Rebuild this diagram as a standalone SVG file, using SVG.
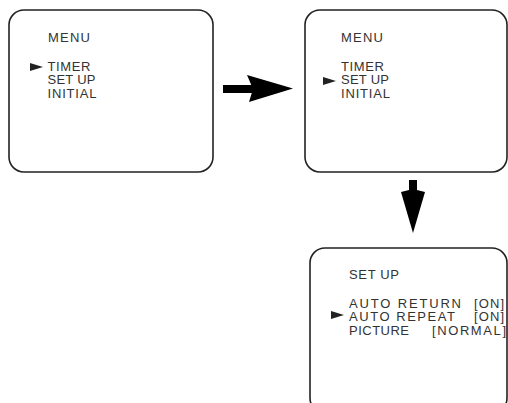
<svg xmlns="http://www.w3.org/2000/svg" width="508" height="403" viewBox="0 0 508 403">
<style>
.box{fill:#fff;stroke:#222;stroke-width:1.6}
.t{font-family:"Liberation Sans",Arial,sans-serif;font-size:13px;fill:#333}
.ptr{fill:#222}
.arr{fill:#000}
</style>
<defs>
<polygon id="ptr" points="0,0 13,4 0,8"/>
</defs>
<rect width="508" height="403" fill="#fff"/>
<g id="screen-menu-timer">
<rect class="box" x="9" y="10" width="204" height="162" rx="15"/>
<text class="t" x="48" y="41.7" textLength="42" lengthAdjust="spacing">MENU</text>
<use href="#ptr" class="ptr" x="30" y="63"/>
<text class="t" x="47.5" y="70.7" textLength="43" lengthAdjust="spacing">TIMER</text>
<text class="t" x="47.5" y="84.3" textLength="48" lengthAdjust="spacing">SET UP</text>
<text class="t" x="47.5" y="98" textLength="49" lengthAdjust="spacing">INITIAL</text>
</g>
<g id="screen-menu-setup">
<rect class="box" x="305" y="10" width="202" height="162" rx="15"/>
<text class="t" x="341" y="41.7" textLength="42" lengthAdjust="spacing">MENU</text>
<text class="t" x="341" y="70.7" textLength="43" lengthAdjust="spacing">TIMER</text>
<use href="#ptr" class="ptr" x="323" y="77"/>
<text class="t" x="341" y="84.3" textLength="48" lengthAdjust="spacing">SET UP</text>
<text class="t" x="341" y="98" textLength="49" lengthAdjust="spacing">INITIAL</text>
</g>
<g id="screen-setup">
<rect class="box" x="310" y="248" width="197" height="165" rx="15"/>
<text class="t" x="349" y="279" textLength="50" lengthAdjust="spacing">SET UP</text>
<text class="t" x="349" y="307.5" textLength="112" lengthAdjust="spacing">AUTO RETURN</text>
<text class="t" x="474" y="307.5" textLength="30" lengthAdjust="spacing">[ON]</text>
<use href="#ptr" class="ptr" x="331" y="311"/>
<text class="t" x="349" y="321" textLength="106" lengthAdjust="spacing">AUTO REPEAT</text>
<text class="t" x="474" y="321" textLength="30" lengthAdjust="spacing">[ON]</text>
<text class="t" x="349" y="334.5" textLength="60" lengthAdjust="spacing">PICTURE</text>
<text class="t" x="432" y="334.5" textLength="74" lengthAdjust="spacing">[NORMAL]</text>
</g>
<g id="connectors">
<rect class="arr" x="223" y="85" width="30" height="8"/>
<polygon class="arr" points="247,75 293,88.5 249,102 253,89"/>
<rect class="arr" x="409" y="180" width="8" height="14"/>
<polygon class="arr" points="401,192 413,189 425,192 413,233"/>
</g>
</svg>
